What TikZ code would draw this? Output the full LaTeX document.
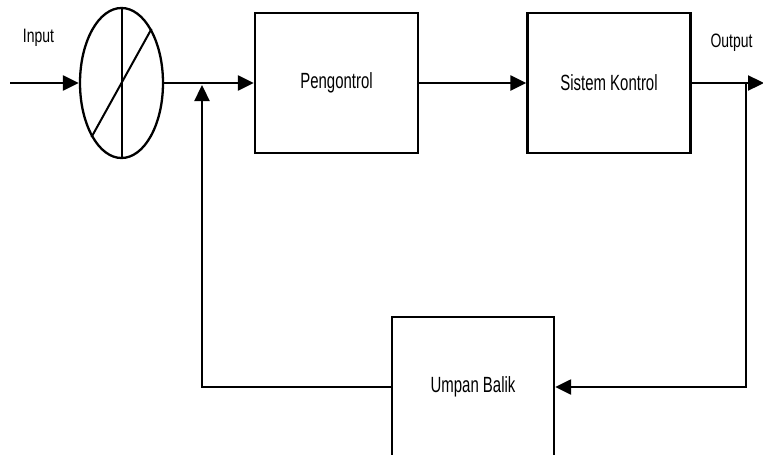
\documentclass[tikz,border=0pt]{standalone}
\usepackage{fontspec}
\setmainfont{Liberation Sans}
\usetikzlibrary{arrows.meta,shapes.geometric}
\newcommand{\boxtxt}[1]{\scalebox{0.68}[1]{#1}}
\newcommand{\sidetxt}[1]{\scalebox{0.72}[1]{#1}}
\begin{document}
\begin{tikzpicture}[x=1pt,y=-1pt,
  line width=2.3pt,
  blk/.style={draw,line width=2.3pt,minimum width=163pt,minimum height=140pt,inner sep=0pt,
    font=\fontsize{22}{22}\selectfont},
  sidelbl/.style={font=\fontsize{19.4}{19.4}\selectfont,inner sep=0pt,anchor=base},
  arr/.style={-{Triangle[length=16pt,width=15pt]}},
]
\useasboundingbox[fill=white] (0,0) rectangle (763,455);
% summing junction
\node[draw,ellipse,line width=2.3pt,minimum width=83pt,minimum height=150pt,inner sep=0pt] (e) at (121.5,83) {};
\draw[line width=2pt] (e.north) -- (e.south);
\draw[line width=2pt] (e.61) -- (e.241);
% blocks
\node[blk] (p) at (336.5,83) {\boxtxt{Pengontrol}};
\node[blk] (s) at (609,83) {\boxtxt{Sistem Kontrol}};
\node[blk,minimum width=162pt] (u) at (473,387) {\boxtxt{Umpan Balik}};
% labels
\node[sidelbl] (inlbl) at (38.5,42) {\sidetxt{Input}};
\node[sidelbl] (outlbl) at (731.5,47.5) {\sidetxt{Output}};
% coordinates
\coordinate (in) at (10,83);
\coordinate (out) at (764,83);
\coordinate (j) at (202,83);
\coordinate (jb) at (202,85);
\coordinate (t) at (746,83);
\coordinate (tb) at (746,387);
\coordinate (lb) at (202,387);
% connectors
\draw[arr] (in) -- (e.west);
\draw[arr] (e.east) -- (p.west);
\draw[arr] (p.east) -- (s.west);
\draw[arr] (s.east) -- (out);
\draw[arr] (t) -- (tb) -- (u.east);
\draw[arr] (u.west) -- (lb) -- (jb);
\end{tikzpicture}
\end{document}
